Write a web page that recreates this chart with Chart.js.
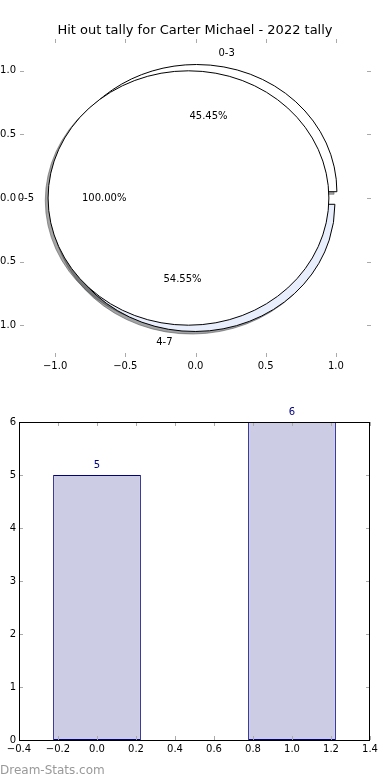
<!DOCTYPE html>
<html>
<head>
<meta charset="utf-8">
<script src="https://cdn.jsdelivr.net/npm/chart.js@4/dist/chart.umd.min.js"></script>
<style>
  body { margin: 0; background: #fff; }
  #wrap { position: relative; width: 390px; height: 780px; overflow: hidden; }
  canvas { position: absolute; left: 0; }
  #pie { top: 0; }
  #bars { top: 390px; }
  #mark { position: absolute; left: 0; top: 762px; font: 12px 'DejaVu Sans'; line-height: 16px; color: #999; }
</style>
</head>
<body>
<div id="wrap">
  <canvas id="pie" width="390" height="390"></canvas>
  <canvas id="bars" width="390" height="390"></canvas>
  <div id="mark">Dream-Stats.com</div>
</div>
<script>
var chartTitle = 'Hit out tally for Carter Michael - 2022 tally';

// top pie: the split wedges, then the total wedge drawn over them
var splitLabels = ['0-3', '4-7'];
var splitValues = [5, 6];
var splitColors = ['#ffffff', '#e8eefb'];
var totalLabels = ['0-5'];
var totalValues = [11];
var totalColors = ['#ffffff'];
var pieTicks = [-1.0, -0.5, 0.0, 0.5, 1.0];

// bottom bars
var barPositions = [0, 1];
var barValues = [5, 6];
var barTicksX = [-0.4, -0.2, 0.0, 0.2, 0.4, 0.6, 0.8, 1.0, 1.2, 1.4];
var barTicksY = [0, 1, 2, 3, 4, 5, 6];

var FONT = "'DejaVu Sans'";

function fmt(v) {
  if (Math.abs(v) < 1e-9) v = 0;
  return (v < 0 ? '\u2212' : '') + Math.abs(v).toFixed(1);
}

function setTicks(list) {
  return function(axis) {
    axis.ticks = list.map(function(v) { return { value: v }; });
  };
}

// angles and offsets of each wedge, like matplotlib pie with explode
function pieWedges(values, explode) {
  var total = values.reduce(function(a, b) { return a + b; }, 0);
  var out = [], cum = 0;
  values.forEach(function(v) {
    var t1 = 360 * cum / total, t2 = 360 * (cum + v) / total;
    var tm = (t1 + t2) / 2 * Math.PI / 180;
    out.push({ t1: t1, t2: t2, cos: Math.cos(tm), sin: Math.sin(tm),
               cx: explode * Math.cos(tm), cy: explode * Math.sin(tm), pct: 100 * v / total });
    cum += v;
  });
  return out;
}

function wedgePath(ctx, xs, ys, cx, cy, r, t1, t2) {
  var px = xs.getPixelForValue(cx), py = ys.getPixelForValue(cy);
  var rx = xs.getPixelForValue(cx + r) - px;
  var ry = py - ys.getPixelForValue(cy + r);
  ctx.beginPath();
  if (t2 - t1 >= 360) {
    ctx.ellipse(px, py, rx, ry, 0, 0, Math.PI * 2);
  } else {
    ctx.moveTo(px, py);
    ctx.ellipse(px, py, rx, ry, 0, -t1 * Math.PI / 180, -t2 * Math.PI / 180, true);
    ctx.closePath();
  }
}

function shade(hex) {
  var n = parseInt(hex.slice(1), 16);
  var r = Math.round(((n >> 16) & 255) * 0.3), g = Math.round(((n >> 8) & 255) * 0.3), b = Math.round((n & 255) * 0.3);
  return 'rgb(' + r + ',' + g + ',' + b + ')';
}

function tickMarks(chart, xs, ys, len) {
  var ctx = chart.ctx, a = chart.chartArea;
  ctx.save();
  ctx.strokeStyle = '#aaa';
  ctx.lineWidth = 1;
  ctx.beginPath();
  xs.ticks.forEach(function(t) {
    var x = Math.round(xs.getPixelForValue(t.value)) + 0.5;
    ctx.moveTo(x, a.top); ctx.lineTo(x, a.top + len);
    ctx.moveTo(x, a.bottom); ctx.lineTo(x, a.bottom - len);
  });
  ys.ticks.forEach(function(t) {
    var y = Math.round(ys.getPixelForValue(t.value)) + 0.5;
    ctx.moveTo(a.left, y); ctx.lineTo(a.left + len, y);
    ctx.moveTo(a.right, y); ctx.lineTo(a.right - len, y);
  });
  ctx.stroke();
  ctx.restore();
}

var piePlugin = {
  id: 'pies',
  afterDraw: function(chart) {
    var ctx = chart.ctx, xs = chart.scales.x, ys = chart.scales.y;
    var parts = [];
    pieWedges(splitValues, 0.05).forEach(function(w, i) {
      parts.push({ w: w, color: splitColors[i], label: splitLabels[i] });
    });
    pieWedges(totalValues, 0.05).forEach(function(w, i) {
      parts.push({ w: w, color: totalColors[i], label: totalLabels[i] });
    });

    tickMarks(chart, xs, ys, 4);

    ctx.save();
    // shadows go under every wedge
    parts.forEach(function(p) {
      var c = shade(p.color);
      wedgePath(ctx, xs, ys, p.w.cx - 0.02, p.w.cy - 0.02, 1, p.w.t1, p.w.t2);
      ctx.globalAlpha = 0.5;
      ctx.fillStyle = c;
      ctx.fill();
      ctx.strokeStyle = c;
      ctx.lineWidth = 1;
      ctx.stroke();
      ctx.globalAlpha = 1;
    });
    parts.forEach(function(p) {
      wedgePath(ctx, xs, ys, p.w.cx, p.w.cy, 1, p.w.t1, p.w.t2);
      ctx.fillStyle = p.color;
      ctx.fill();
      ctx.strokeStyle = '#000';
      ctx.lineWidth = 1;
      ctx.stroke();
    });

    ctx.font = '10px ' + FONT;
    ctx.fillStyle = '#000';
    ctx.textBaseline = 'middle';
    parts.forEach(function(p) {
      var lx = p.w.cx + 1.1 * p.w.cos, ly = p.w.cy + 1.1 * p.w.sin;
      ctx.textAlign = lx > 0 ? 'left' : 'right';
      ctx.fillText(p.label, xs.getPixelForValue(lx), ys.getPixelForValue(ly));
      var qx = p.w.cx + 0.6 * p.w.cos, qy = p.w.cy + 0.6 * p.w.sin;
      ctx.textAlign = 'center';
      ctx.fillText(p.w.pct.toFixed(2) + '%', xs.getPixelForValue(qx), ys.getPixelForValue(qy));
    });
    ctx.restore();
  }
};

var barPlugin = {
  id: 'barDeco',
  afterDraw: function(chart) {
    var ctx = chart.ctx, a = chart.chartArea;
    tickMarks(chart, chart.scales.x2, chart.scales.y, 4);

    ctx.save();
    ctx.strokeStyle = '#000';
    ctx.lineWidth = 1;
    ctx.strokeRect(Math.round(a.left) + 0.5, Math.round(a.top) + 0.5,
                   Math.round(a.right - a.left) - 1, Math.round(a.bottom - a.top));

    ctx.font = '10px ' + FONT;
    ctx.fillStyle = '#000080';
    ctx.textAlign = 'center';
    ctx.textBaseline = 'middle';
    chart.getDatasetMeta(0).data.forEach(function(bar, i) {
      ctx.fillText(String(barValues[i]), bar.x, bar.y - 10);
    });
    ctx.restore();
  }
};

var tickFont = { family: FONT, size: 10 };

new Chart(document.getElementById('pie'), {
  type: 'scatter',
  data: { datasets: [] },
  options: {
    responsive: false,
    animation: false,
    devicePixelRatio: 1,
    layout: { padding: 0 },
    plugins: {
      legend: { display: false },
      tooltip: { enabled: false },
      title: {
        display: true,
        text: chartTitle,
        color: '#000',
        font: { family: FONT, size: 13, weight: 'normal', lineHeight: 1 },
        padding: { top: 24, bottom: 2 }
      }
    },
    scales: {
      x: {
        type: 'linear', min: -1.25, max: 1.25,
        afterBuildTicks: setTicks(pieTicks),
        afterFit: function(s) { s.height = 33; },
        grid: { display: false, drawTicks: false },
        border: { display: false },
        ticks: { color: '#000', font: tickFont, padding: 3,
                 maxRotation: 0, autoSkip: false, callback: fmt }
      },
      y: {
        type: 'linear', min: -1.25, max: 1.25,
        afterBuildTicks: setTicks(pieTicks),
        afterFit: function(s) { s.width = 20; },
        grid: { display: false, drawTicks: false },
        border: { display: false },
        ticks: { color: '#000', font: tickFont, padding: 4,
                 autoSkip: false, callback: fmt }
      },
      // empty right margin, keeps the title centred over the axes
      y2: {
        type: 'linear', position: 'right', min: -1.25, max: 1.25,
        afterFit: function(s) { s.width = 19; },
        grid: { display: false, drawTicks: false },
        border: { display: false },
        ticks: { display: false }
      }
    }
  },
  plugins: [piePlugin]
});

new Chart(document.getElementById('bars'), {
  type: 'bar',
  data: {
    datasets: [{
      data: barPositions.map(function(x, i) { return { x: x, y: barValues[i] }; }),
      backgroundColor: '#ccccE5',
      borderColor: '#000080',
      borderWidth: 1,
      borderSkipped: false,
      barPercentage: 0.45,
      categoryPercentage: 1,
      xAxisID: 'x'
    }]
  },
  options: {
    responsive: false,
    animation: false,
    devicePixelRatio: 1,
    layout: { padding: { left: 0, right: 20, top: 32, bottom: 0 } },
    plugins: { legend: { display: false }, tooltip: { enabled: false } },
    scales: {
      // positions the bars; its ticks sit on the bars so the bar width follows the 1.0 spacing
      x: {
        type: 'linear', min: -0.4, max: 1.4, display: false, offset: false,
        afterBuildTicks: setTicks(barPositions)
      },
      x2: {
        type: 'linear', position: 'bottom', min: -0.4, max: 1.4, offset: false,
        afterBuildTicks: setTicks(barTicksX),
        afterFit: function(s) { s.height = 40; },
        grid: { display: false, drawTicks: false, offset: false },
        border: { display: false },
        ticks: { color: '#000', font: tickFont, padding: 3,
                 maxRotation: 0, autoSkip: false, callback: fmt }
      },
      y: {
        type: 'linear', min: 0, max: 6,
        afterBuildTicks: setTicks(barTicksY),
        afterFit: function(s) { s.width = 19; },
        grid: { display: false, drawTicks: false },
        border: { display: false },
        ticks: { color: '#000', font: tickFont, padding: 3, autoSkip: false }
      }
    }
  },
  plugins: [barPlugin]
});
</script>
</body>
</html>
